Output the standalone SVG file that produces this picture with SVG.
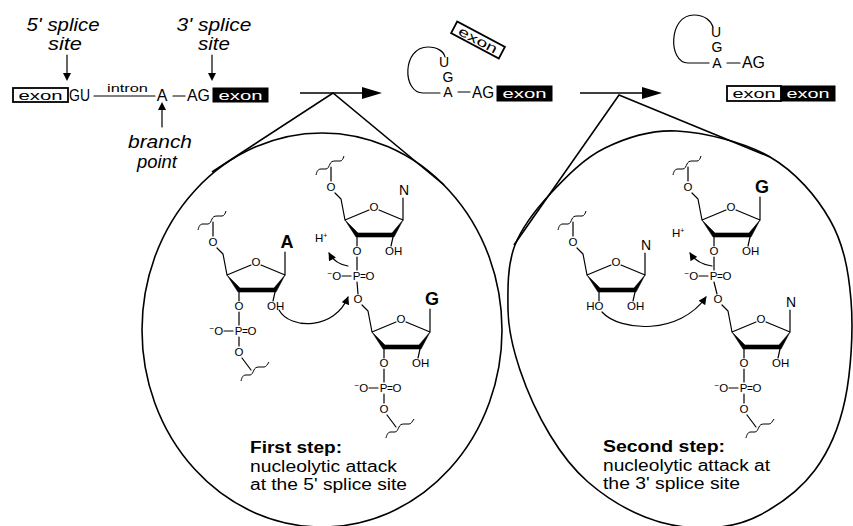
<svg xmlns="http://www.w3.org/2000/svg" width="853" height="526" viewBox="0 0 853 526">
<style>
 .ln{stroke:#000;stroke-width:1.2;fill:none;stroke-linecap:round;stroke-linejoin:round}
 .thk{stroke:#000;stroke-width:1.6;fill:none}
 .ring{fill:#000;stroke:#000;stroke-width:0.6;stroke-linejoin:round}
 .sq{stroke:#000;stroke-width:1;fill:none;stroke-linejoin:round}
 text{font-family:"Liberation Sans",Arial,Helvetica,sans-serif;fill:#000}
 .c{font-size:11.5px;text-anchor:middle}
 .cs{font-size:11.5px}
 .base{font-size:18px;font-weight:bold;text-anchor:middle}
 .basen{font-size:14px;text-anchor:middle}
 .lab{font-size:19px;font-style:italic;text-anchor:middle}
 .seq{font-size:16px}
 .lar{font-size:14px;text-anchor:middle}
 .box{font-size:13px;text-anchor:middle}
 .wbox{fill:#fff;stroke:#000;stroke-width:1.8}
 .bbox{fill:#000;stroke:#000;stroke-width:1}
 .hd{font-size:16px;font-weight:bold}
 .bd{font-size:16px}
</style>
<defs>
 <marker id="ah" viewBox="0 0 10 10" refX="9" refY="5" markerWidth="9" markerHeight="8" markerUnits="userSpaceOnUse" orient="auto"><path d="M0,0 L10,5 L0,10 Z" fill="#000"/></marker>
</defs>
<rect width="853" height="526" fill="#fff"/>

<!-- pre-mRNA -->
<g id="pre-mrna">
 <text class="lab" x="63" y="31" textLength="73" lengthAdjust="spacingAndGlyphs">5' splice</text>
 <text class="lab" x="65" y="50" textLength="34" lengthAdjust="spacingAndGlyphs">site</text>
 <text class="lab" x="214" y="31" textLength="75" lengthAdjust="spacingAndGlyphs">3' splice</text>
 <text class="lab" x="214" y="50" textLength="32" lengthAdjust="spacingAndGlyphs">site</text>
 <rect class="wbox" x="13" y="88" width="55" height="14"/>
 <text class="box" x="40.5" y="99.5" textLength="44" lengthAdjust="spacingAndGlyphs">exon</text>
 <text class="seq" x="69" y="101" textLength="21" lengthAdjust="spacingAndGlyphs">GU</text>
 <text class="cs" x="107" y="92" font-size="13" textLength="41" lengthAdjust="spacingAndGlyphs">intron</text>
 <text class="seq" x="162" y="101" text-anchor="middle">A</text>
 <text class="seq" x="187" y="101" textLength="23" lengthAdjust="spacingAndGlyphs">AG</text>
 <rect class="bbox" x="213" y="88" width="55" height="14"/>
 <text class="box" x="240.5" y="99.5" style="fill:#fff" textLength="44" lengthAdjust="spacingAndGlyphs">exon</text>
 <text class="lab" x="160" y="148" textLength="64" lengthAdjust="spacingAndGlyphs">branch</text>
 <text class="lab" x="157" y="168" textLength="40" lengthAdjust="spacingAndGlyphs">point</text>
</g>

<!-- intermediate lariat -->
<g id="lariat-intermediate">
 <g transform="translate(478,40) rotate(28)">
  <rect class="wbox" x="-27" y="-6.5" width="54" height="13"/>
  <text class="box" x="0" y="4.5" textLength="42" lengthAdjust="spacingAndGlyphs">exon</text>
 </g>
 <path class="ln" d="M440,93 L423,93 C402,93 402,47 428,47 C438,47 444,52 445,57"/>
 <text class="lar" x="444" y="67">U</text>
 <text class="lar" x="448" y="82">G</text>
 <text class="lar" x="448" y="97">A</text>
 <text class="seq" x="472" y="98" textLength="22" lengthAdjust="spacingAndGlyphs">AG</text>
 <rect class="bbox" x="497" y="86" width="55" height="15"/>
 <text class="box" x="524.5" y="98" style="fill:#fff" textLength="44" lengthAdjust="spacingAndGlyphs">exon</text>
</g>

<!-- products -->
<g id="products">
 <path class="ln" d="M709,63 L688,63 C668,63 668,15 694,15 C705,15 711,21 713,27"/>
 <text class="lar" x="716" y="37">U</text>
 <text class="lar" x="717" y="52">G</text>
 <text class="lar" x="717" y="68">A</text>
 <text class="seq" x="742" y="68" textLength="23" lengthAdjust="spacingAndGlyphs">AG</text>
 <rect class="wbox" x="727" y="86" width="54" height="15"/>
 <text class="box" x="754" y="98" textLength="43" lengthAdjust="spacingAndGlyphs">exon</text>
 <rect class="bbox" x="781" y="86" width="54" height="15"/>
 <text class="box" x="808" y="98" style="fill:#fff" textLength="43" lengthAdjust="spacingAndGlyphs">exon</text>
</g>

<!-- connectors -->
<g id="connectors">
 <path class="ln" d="M67,55 V74 M212,55 V74 M162,127 V109"/>
 <path d="M63,73 L71,73 L67,81 Z M208,73 L216,73 L212,81 Z M158,110 L166,110 L162,102 Z" fill="#000"/>
 <path class="ln" d="M94,96 H155 M173,96 H185 M458,92 H470 M727,63 H740"/>
 <path class="thk" d="M300,93 H366 M580,93 H646"/>
 <path d="M362,87 L382,93 L362,99 Z M642,87 L662,93 L642,99 Z" fill="#000"/>
 <path class="thk" d="M212,172 L333,93 L444,185 M514,245 L619,95 L770,157"/>
</g>

<!-- magnified circles -->
<ellipse id="circle-step1" cx="322" cy="330" rx="180" ry="197" class="thk"/>
<path id="circle-step2" class="thk" d="M677,131 C704.5,132.5 744.5,142.2 770,157 C795.5,171.8 816.5,196.2 830,220 C843.5,243.8 848.5,270 851,300 C853.5,330 851,371.7 845,400 C839,428.3 829.2,450.8 815,470 C800.8,489.2 778.3,505.3 760,515 C741.7,524.7 724.2,527.7 705,528 C685.8,528.3 664.5,524.7 645,517 C625.5,509.3 603.8,495.7 588,482 C572.2,468.3 561.3,453.7 550,435 C538.7,416.3 527,390.8 520,370 C513,349.2 508.3,330.8 508,310 C507.7,289.2 507.3,264.5 515,245 C522.7,225.5 536,209.2 551,193 C566,176.8 584,158.3 605,148 C626,137.7 649.5,129.5 677,131 Z"/>

<!-- Step 1 nucleotides -->
<g id="nt-A" transform="translate(227,275)">
 <polygon class="ring" points="0,0 11,17 49,17 58,0 47,13 13,13"/>
 <path class="ln" d="M0,0 L24,-10 M34,-10 L58,0 M58,0 V-23 M0,0 L-4,-21 L-10,-27 M-14,-39 V-53 M48,17 L46,26 M12,17 V26 M12,37 V50 M-3,56 H6 M16,54.5 H20 M16,57.5 H20 M12,62 V71 M15,83 L24,95"/>
 <path class="sq" d="M-29,-45 C-28,-49 -27,-51 -24,-51 L-19,-51 C-17,-51 -16,-54 -15,-56 C-14,-58 -13,-59 -10,-59 L-5,-59 C-3,-59 -2,-61 -1,-64 M14,106 C15,102 16,100 19,100 L23,100 C25,100 26,97 27,95 C28,93 29,92 32,92 L37,92 C39,92 40,90 42,87"/>
 <text class="c" x="29" y="-9">O</text>
 <text class="base" x="60" y="-27">A</text>
 <text class="c" x="-14" y="-29">O</text>
 <text class="cs" x="40" y="35">OH</text>
 <text class="c" x="12" y="35">O</text>
 <text class="cs" x="-17.5" y="60"><tspan font-size="8" dy="-4">−</tspan><tspan dy="4">O</tspan></text>
 <text class="c" x="11.5" y="60">P</text>
 <text class="c" x="25" y="60">O</text>
 <text class="c" x="12" y="81">O</text>
</g>

<g id="nt-N1" transform="translate(345,220)">
 <polygon class="ring" points="0,0 11,17 49,17 58,0 47,13 13,13"/>
 <path class="ln" d="M0,0 L24,-10 M34,-10 L58,0 M58,0 V-22 M0,0 L-4,-21 L-10,-27 M-14,-39 V-53 M48,17 L46,26 M12,17 V26 M12,37 V50 M-3,56 H6 M16,54.5 H20 M16,57.5 H20 M12,62 L13,74"/>
 <path class="sq" d="M-29,-45 C-28,-49 -27,-51 -24,-51 L-19,-51 C-17,-51 -16,-54 -15,-56 C-14,-58 -13,-59 -10,-59 L-5,-59 C-3,-59 -2,-61 -1,-64"/>
 <text class="c" x="29" y="-9">O</text>
 <text class="basen" x="59" y="-25">N</text>
 <text class="c" x="-14" y="-29">O</text>
 <text class="cs" x="40" y="35">OH</text>
 <text class="c" x="12" y="35">O</text>
 <text class="cs" x="-17.5" y="60"><tspan font-size="8" dy="-4">−</tspan><tspan dy="4">O</tspan></text>
 <text class="c" x="11.5" y="60">P</text>
 <text class="c" x="25" y="60">O</text>
</g>

<g id="nt-G1" transform="translate(372,332)">
 <polygon class="ring" points="0,0 11,17 49,17 58,0 47,13 13,13"/>
 <path class="ln" d="M0,0 L24,-10 M34,-10 L58,0 M58,0 V-23 M0,0 L-4,-21 L-10,-27 M48,17 L46,26 M12,17 V26 M12,37 V50 M-3,56 H6 M16,54.5 H20 M16,57.5 H20 M12,62 V71 M15,83 L24,95"/>
 <path class="sq" d="M14,106 C15,102 16,100 19,100 L23,100 C25,100 26,97 27,95 C28,93 29,92 32,92 L37,92 C39,92 40,90 42,87"/>
 <text class="c" x="29" y="-9">O</text>
 <text class="base" x="60" y="-27">G</text>
 <text class="c" x="-14" y="-29">O</text>
 <text class="cs" x="40" y="35">OH</text>
 <text class="c" x="12" y="35">O</text>
 <text class="cs" x="-17.5" y="60"><tspan font-size="8" dy="-4">−</tspan><tspan dy="4">O</tspan></text>
 <text class="c" x="11.5" y="60">P</text>
 <text class="c" x="25" y="60">O</text>
 <text class="c" x="12" y="81">O</text>
</g>

<g id="step1-arrows">
 <path class="ln" d="M279,310 C290,330 335,330 348,297" marker-end="url(#ah)"/>
 <path class="ln" d="M348,266 Q335,264 329,253" marker-end="url(#ah)"/>
 <text class="cs" x="315" y="242" font-size="12">H<tspan font-size="7" dy="-4">+</tspan></text>
</g>

<!-- Step 2 nucleotides -->
<g id="nt-N2" transform="translate(587,275)">
 <polygon class="ring" points="0,0 11,17 49,17 58,0 47,13 13,13"/>
 <path class="ln" d="M0,0 L24,-10 M34,-10 L58,0 M58,0 V-22 M0,0 L-4,-21 L-10,-27 M-14,-39 V-53 M48,17 L46,26 M12,17 V26"/>
 <path class="sq" d="M-29,-45 C-28,-49 -27,-51 -24,-51 L-19,-51 C-17,-51 -16,-54 -15,-56 C-14,-58 -13,-59 -10,-59 L-5,-59 C-3,-59 -2,-61 -1,-64"/>
 <text class="c" x="29" y="-9">O</text>
 <text class="basen" x="59" y="-25">N</text>
 <text class="c" x="-14" y="-29">O</text>
 <text class="cs" x="40" y="35">OH</text>
 <text class="cs" x="16.5" y="35" text-anchor="end">HO</text>
</g>

<g id="nt-G2" transform="translate(702,220)">
 <polygon class="ring" points="0,0 11,17 49,17 58,0 47,13 13,13"/>
 <path class="ln" d="M0,0 L24,-10 M34,-10 L58,0 M58,0 V-23 M0,0 L-4,-21 L-10,-27 M-14,-39 V-53 M48,17 L46,26 M12,17 V26 M12,37 V50 M-3,56 H6 M16,54.5 H20 M16,57.5 H20 M12,62 L15,74"/>
 <path class="sq" d="M-29,-45 C-28,-49 -27,-51 -24,-51 L-19,-51 C-17,-51 -16,-54 -15,-56 C-14,-58 -13,-59 -10,-59 L-5,-59 C-3,-59 -2,-61 -1,-64"/>
 <text class="c" x="29" y="-9">O</text>
 <text class="base" x="60" y="-27">G</text>
 <text class="c" x="-14" y="-29">O</text>
 <text class="cs" x="40" y="35">OH</text>
 <text class="c" x="12" y="35">O</text>
 <text class="cs" x="-17.5" y="60"><tspan font-size="8" dy="-4">−</tspan><tspan dy="4">O</tspan></text>
 <text class="c" x="11.5" y="60">P</text>
 <text class="c" x="25" y="60">O</text>
</g>

<g id="nt-N3" transform="translate(732,332)">
 <polygon class="ring" points="0,0 11,17 49,17 58,0 47,13 13,13"/>
 <path class="ln" d="M0,0 L24,-10 M34,-10 L58,0 M58,0 V-22 M0,0 L-4,-21 L-10,-27 M48,17 L46,26 M12,17 V26 M12,37 V50 M-3,56 H6 M16,54.5 H20 M16,57.5 H20 M12,62 V71 M15,83 L24,95"/>
 <path class="sq" d="M14,106 C15,102 16,100 19,100 L23,100 C25,100 26,97 27,95 C28,93 29,92 32,92 L37,92 C39,92 40,90 42,87"/>
 <text class="c" x="29" y="-9">O</text>
 <text class="basen" x="59" y="-25">N</text>
 <text class="c" x="-14" y="-29">O</text>
 <text class="cs" x="40" y="35">OH</text>
 <text class="c" x="12" y="35">O</text>
 <text class="cs" x="-17.5" y="60"><tspan font-size="8" dy="-4">−</tspan><tspan dy="4">O</tspan></text>
 <text class="c" x="11.5" y="60">P</text>
 <text class="c" x="25" y="60">O</text>
 <text class="c" x="12" y="81">O</text>
</g>

<g id="step2-arrows">
 <path class="ln" d="M602,312 C620,332 680,335 706,297" marker-end="url(#ah)"/>
 <path class="ln" d="M712,266 Q697,264 690,253" marker-end="url(#ah)"/>
 <text class="cs" x="672" y="237" font-size="12">H<tspan font-size="7" dy="-4">+</tspan></text>
</g>

<!-- captions -->
<g id="caption-step1">
 <text class="hd" x="250" y="453" textLength="92" lengthAdjust="spacingAndGlyphs">First step:</text>
 <text class="bd" x="250" y="471.5" textLength="147" lengthAdjust="spacingAndGlyphs">nucleolytic attack</text>
 <text class="bd" x="250" y="490" textLength="157" lengthAdjust="spacingAndGlyphs">at the 5' splice site</text>
</g>
<g id="caption-step2">
 <text class="hd" x="603" y="452" textLength="122" lengthAdjust="spacingAndGlyphs">Second step:</text>
 <text class="bd" x="603" y="470.5" textLength="167" lengthAdjust="spacingAndGlyphs">nucleolytic attack at</text>
 <text class="bd" x="603" y="489" textLength="137" lengthAdjust="spacingAndGlyphs">the 3' splice site</text>
</g>
</svg>
